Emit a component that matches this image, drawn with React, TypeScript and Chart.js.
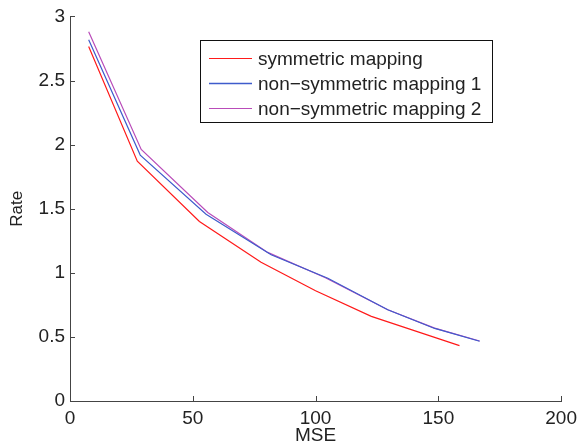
import React, { useEffect, useRef } from "react";
import { Chart, registerables } from "chart.js";

Chart.register(...registerables);

const seriesNames = ["symmetric mapping", "non\u2212symmetric mapping 1", "non\u2212symmetric mapping 2"];
const seriesColors = ["#ff1a1a", "#3f5ccc", "#b94cb9"];

const redX = [7.6, 27.4, 52.7, 77.8, 100, 122.7, 158.6];
const redY = [2.766, 1.871, 1.4, 1.082, 0.86, 0.66, 0.432];
const blueX = [7.6, 28.6, 55.4, 81.9, 105, 129.4, 148.5, 166.8];
const blueY = [2.818, 1.918, 1.457, 1.141, 0.958, 0.712, 0.566, 0.466];
const purpleX = [7.6, 29, 56.1, 80.5, 104, 129.4, 148.5, 166.8];
const purpleY = [2.88, 1.962, 1.47, 1.159, 0.962, 0.712, 0.568, 0.468];

const xTicks = [0, 50, 100, 150, 200];
const yTicks = [0, 0.5, 1, 1.5, 2, 2.5, 3];

const FONT = "'Liberation Sans', Arial, Helvetica, sans-serif";

const toPts = (xs: number[], ys: number[]) => xs.map((x, i) => ({ x, y: ys[i] }));

const inwardTicks = {
  id: "inwardTicks",
  afterDraw(chart: any) {
    const ctx = chart.ctx;
    const xs = chart.scales.x;
    const ys = chart.scales.y;
    const area = chart.chartArea;
    ctx.save();
    ctx.strokeStyle = "#444";
    ctx.lineWidth = 1;
    ctx.beginPath();
    xs.ticks.forEach((t: any) => {
      const px = Math.round(xs.getPixelForValue(t.value)) + 0.5;
      ctx.moveTo(px, Math.round(area.bottom));
      ctx.lineTo(px, Math.round(area.bottom) - 5);
    });
    ys.ticks.forEach((t: any) => {
      const py = Math.round(ys.getPixelForValue(t.value)) + 0.5;
      ctx.moveTo(Math.round(area.left), py);
      ctx.lineTo(Math.round(area.left) + 5, py);
    });
    ctx.stroke();
    ctx.restore();
  },
};

const boxLegend = {
  id: "boxLegend",
  afterDraw(chart: any) {
    const ctx = chart.ctx;
    const bx = 200.5, by = 40.5, bw = 292, bh = 82;
    ctx.save();
    ctx.fillStyle = "#fff";
    ctx.fillRect(bx, by, bw, bh);
    ctx.strokeStyle = "#111";
    ctx.lineWidth = 1;
    ctx.strokeRect(bx, by, bw, bh);
    ctx.font = `19px ${FONT}`;
    ctx.textBaseline = "middle";
    ctx.textAlign = "left";
    chart.data.datasets.forEach((ds: any, i: number) => {
      const y = 58.5 + i * 25;
      ctx.strokeStyle = ds.borderColor;
      ctx.lineWidth = i === 1 ? 1.6 : 1.2;
      ctx.beginPath();
      ctx.moveTo(209, y);
      ctx.lineTo(252, y);
      ctx.stroke();
      ctx.fillStyle = "#222";
      ctx.fillText(ds.label, 258, y + 1);
    });
    ctx.restore();
  },
};

export default function App() {
  const ref = useRef<HTMLCanvasElement>(null);
  useEffect(() => {
    document.body.style.margin = "0";
    const chart = new Chart(ref.current!, {
      type: "line",
      data: {
        datasets: [
          { label: seriesNames[0], data: toPts(redX, redY), borderColor: seriesColors[0] },
          { label: seriesNames[1], data: toPts(blueX, blueY), borderColor: seriesColors[1] },
          { label: seriesNames[2], data: toPts(purpleX, purpleY), borderColor: seriesColors[2] },
        ].map((d) => ({ ...d, borderWidth: 1.2, pointRadius: 0, fill: false, tension: 0 })),
      },
      options: {
        animation: false,
        responsive: false,
        layout: { padding: { top: 15, right: 21, left: 0, bottom: 0 } },
        plugins: { legend: { display: false }, tooltip: { enabled: false } },
        scales: {
          x: {
            type: "linear",
            min: 0,
            max: 200,
            afterBuildTicks: (s: any) => { s.ticks = xTicks.map((v) => ({ value: v })); },
            afterFit: (s: any) => { s.height = 46; },
            grid: { drawOnChartArea: false, drawTicks: false },
            border: { color: "#444", width: 1 },
            ticks: { padding: 6, color: "#222", font: { family: FONT, size: 19 }, maxRotation: 0, callback: (v: any) => String(v) },
            title: { display: true, text: "MSE", color: "#222", font: { family: FONT, size: 19 }, padding: { top: 0, bottom: 0 } },
          },
          y: {
            type: "linear",
            min: 0,
            max: 3,
            afterBuildTicks: (s: any) => { s.ticks = yTicks.map((v) => ({ value: v })); },
            afterFit: (s: any) => { s.width = 70; },
            grid: { drawOnChartArea: false, drawTicks: false },
            border: { color: "#444", width: 1 },
            ticks: { padding: 5, color: "#222", font: { family: FONT, size: 19 }, callback: (v: any) => String(v) },
            title: { display: true, text: "Rate", color: "#222", font: { family: FONT, size: 17 }, padding: { top: 7, bottom: 0 } },
          },
        },
      },
      plugins: [inwardTicks, boxLegend],
    } as any);
    return () => chart.destroy();
  }, []);
  return (
    <div style={{ position: "absolute", left: 0, top: 0, width: 583, height: 447, background: "#fff" }}>
      <canvas ref={ref} width={583} height={447} style={{ display: "block" }} />
    </div>
  );
}
